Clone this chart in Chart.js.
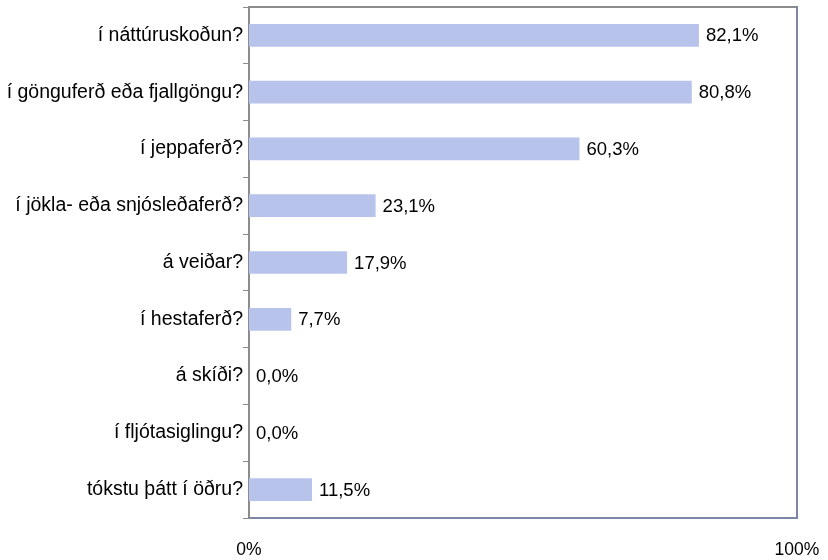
<!DOCTYPE html>
<html>
<head>
<meta charset="utf-8">
<script src="https://cdn.jsdelivr.net/npm/chart.js@4.4.1/dist/chart.umd.min.js"></script>
<style>
  html, body { margin: 0; padding: 0; background: #fff; }
  #wrap { width: 828px; height: 560px; }
</style>
</head>
<body>
<div id="wrap"><canvas id="chart" width="828" height="560"></canvas></div>
<script>
// Data
const categories = [
    'í náttúruskoðun?',
    'í gönguferð eða fjallgöngu?',
    'í jeppaferð?',
    'í jökla- eða snjósleðaferð?',
    'á veiðar?',
    'í hestaferð?',
    'á skíði?',
    'í fljótasiglingu?',
    'tókstu þátt í öðru?'
];
const percentValues = [82.1, 80.8, 60.3, 23.1, 17.9, 7.7, 0.0, 0.0, 11.5];
const xTickValues = [0, 100];

const FONT = "'Liberation Sans', Arial, sans-serif";

// Draws the value labels to the right of each bar
const valueLabels = {
    id: 'valueLabels',
    afterDatasetsDraw(chart) {
        const ctx = chart.ctx;
        const meta = chart.getDatasetMeta(0);
        ctx.save();
        ctx.font = '18.5px ' + FONT;
        ctx.fillStyle = '#000';
        ctx.textAlign = 'left';
        ctx.textBaseline = 'middle';
        meta.data.forEach((bar, i) => {
            const txt = percentValues[i].toFixed(1).replace('.', ',') + '%';
            ctx.fillText(txt, bar.x + 7, bar.y + 1);
        });
        ctx.restore();
    }
};

// Top and right frame of the plot area
const plotFrame = {
    id: 'plotFrame',
    beforeDatasetsDraw(chart) {
        const a = chart.chartArea;
        const ctx = chart.ctx;
        ctx.save();
        ctx.lineWidth = 2;
        ctx.strokeStyle = '#8c8c8c';
        ctx.beginPath();
        ctx.moveTo(a.left, a.top);
        ctx.lineTo(a.right, a.top);
        ctx.stroke();
        ctx.strokeStyle = '#7c87a6';
        ctx.beginPath();
        ctx.moveTo(a.right, a.top - 1);
        ctx.lineTo(a.right, a.bottom);
        ctx.stroke();
        ctx.restore();
    }
};

new Chart(document.getElementById('chart').getContext('2d'), {
    type: 'bar',
    data: {
        labels: categories,
        datasets: [{
            data: percentValues,
            backgroundColor: '#b8c3ec',
            borderWidth: 0,
            barPercentage: 0.4,
            categoryPercentage: 1.0
        }]
    },
    options: {
        indexAxis: 'y',
        responsive: false,
        animation: false,
        layout: { padding: { top: 7, right: 31, left: 0, bottom: 0 } },
        scales: {
            x: {
                min: 0,
                max: 100,
                afterBuildTicks: (axis) => { axis.ticks = xTickValues.map(v => ({ value: v })); },
                ticks: {
                    color: '#000',
                    font: { family: FONT, size: 17.5 },
                    padding: 22,
                    maxRotation: 0,
                    callback: (v) => v + '%'
                },
                grid: { display: false, drawTicks: false },
                border: { display: true, color: '#7c87a6', width: 2 },
                afterFit: (axis) => {
                    axis.height = 42;
                    axis.paddingLeft = 0;
                    axis.paddingRight = 0;
                }
            },
            y: {
                ticks: {
                    color: '#000',
                    font: { family: FONT, size: 19.5 },
                    padding: 0
                },
                grid: {
                    offset: true,
                    drawOnChartArea: false,
                    drawTicks: true,
                    tickLength: 6,
                    color: '#8c8c8c'
                },
                border: { display: true, color: '#8c8c8c', width: 2 },
                afterFit: (axis) => {
                    axis.width = 249;
                    axis.paddingTop = 0;
                    axis.paddingBottom = 0;
                }
            }
        },
        plugins: {
            legend: { display: false },
            tooltip: { enabled: false }
        }
    },
    plugins: [plotFrame, valueLabels]
});
</script>
</body>
</html>
